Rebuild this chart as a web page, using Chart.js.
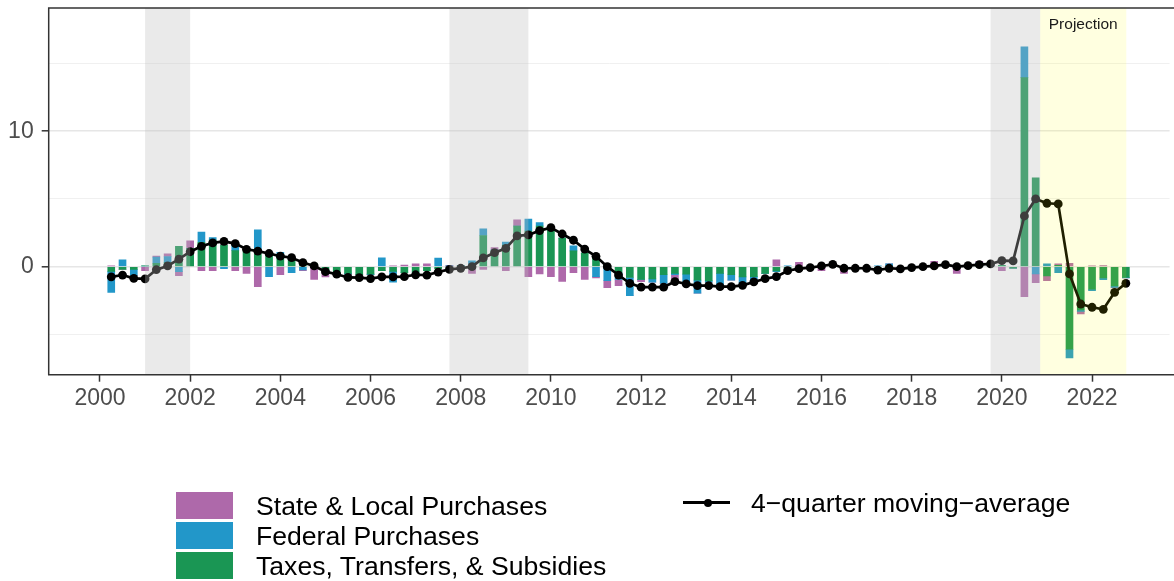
<!DOCTYPE html>
<html>
<head>
<meta charset="utf-8">
<script src="https://cdn.jsdelivr.net/npm/chart.js@4.4.1/dist/chart.umd.min.js"></script>
<style>
html,body{margin:0;padding:0;background:#fff;}
#wrap{position:relative;width:1174px;height:581px;overflow:hidden;font-family:"Liberation Sans",Arial,sans-serif;}
#c{position:absolute;left:0;top:0;}
.lgtext{position:absolute;font-size:26.6px;color:#000;line-height:30px;white-space:nowrap;}
.lgbox{position:absolute;width:57px;height:27px;}
.lgline{position:absolute;height:3px;background:#000;}
.lgdot{position:absolute;width:8px;height:8px;border-radius:50%;background:#000;}
</style>
</head>
<body>
<div id="wrap">
<canvas id="c" width="1174" height="581"></canvas>
<div id="legend"></div>
</div>
<script>
// ---- categories (quarters) ----
const quarters = [
 '2000Q1','2000Q2','2000Q3','2000Q4','2001Q1','2001Q2','2001Q3','2001Q4',
 '2002Q1','2002Q2','2002Q3','2002Q4','2003Q1','2003Q2','2003Q3','2003Q4',
 '2004Q1','2004Q2','2004Q3','2004Q4','2005Q1','2005Q2','2005Q3','2005Q4',
 '2006Q1','2006Q2','2006Q3','2006Q4','2007Q1','2007Q2','2007Q3','2007Q4',
 '2008Q1','2008Q2','2008Q3','2008Q4','2009Q1','2009Q2','2009Q3','2009Q4',
 '2010Q1','2010Q2','2010Q3','2010Q4','2011Q1','2011Q2','2011Q3','2011Q4',
 '2012Q1','2012Q2','2012Q3','2012Q4','2013Q1','2013Q2','2013Q3','2013Q4',
 '2014Q1','2014Q2','2014Q3','2014Q4','2015Q1','2015Q2','2015Q3','2015Q4',
 '2016Q1','2016Q2','2016Q3','2016Q4','2017Q1','2017Q2','2017Q3','2017Q4',
 '2018Q1','2018Q2','2018Q3','2018Q4','2019Q1','2019Q2','2019Q3','2019Q4',
 '2020Q1','2020Q2','2020Q3','2020Q4','2021Q1','2021Q2','2021Q3','2021Q4',
 '2022Q1','2022Q2','2022Q3'
];

// ---- series values (percentage points) ----
const taxesTransfers = [
 -0.35,-0.2,-0.2,0.05, 0.25,0.3,1.5,1.35,
 1.8,1.97,1.6,1.18, 1.25,1.23,0.95,0.85,
 0.6,0.25,0.2,-0.3, -0.55,-0.5,-0.6,-0.55,
 -0.3,-0.35,-0.45,-0.4, -0.3,-0.15,-0.1,0.05,
 0.0,2.3,1.2,1.6, 3.0,2.63,3.0,2.75,
 2.1,1.16,1.0,0.8, 0.1,-0.45,-0.8,-0.94,
 -0.9,-0.6,-0.5,-0.55, -1.0,-1.05,-0.5,-0.6,
 -0.75,-0.74,-0.5,-0.32, -0.2,-0.05,-0.05,0.05,
 0.05,0,-0.05,-0.05, -0.05,0,-0.05,0,
 0,0,0.05,0, 0,0,0.05,0.1,
 -0.12,13.96,6.55,-0.69, 0.1,-6.1,-3.2,-1.67,
 -0.84,-1.43,-0.79
];
const federalPurchases = [
 -1.55,0.5,-0.45,0, 0.45,0.45,-0.37,0,
 0.75,0.17,-0.15,0.4, 0,1.48,-0.74,0.2,
 -0.45,-0.25,-0.05,0, 0,-0.05,0,-0.05,
 0.65,-0.8,0,0, 0,0.64,0.05,0.05,
 0.42,0.5,0.05,0.22, 0,0.88,0.25,0,
 0,0.37,0,-0.74, -1.03,-0.5,-1.35,0,
 -0.25,-0.64,-0.1,-0.6, -0.95,-0.1,-1.0,-0.4,
 -0.6,-0.25,0,-0.05, 0.05,0,0.05,0,
 0.05,0,0,0, 0.05,0.2,0,0.05,
 0,0,0,0, 0.05,0.3,0,0,
 0,2.27,-0.54,0.2, -0.45,-0.65,-0.1,-0.1,
 -0.12,-0.1,-0.05
];
const stateLocalPurchases = [
 0.05,0,0,-0.3, 0.08,0.2,-0.3,0.55,
 -0.3,-0.3,0.05,-0.3, -0.5,-1.48,0,-0.6,
 0,-0.05,-0.9,-0.45, -0.05,0,-0.05,0,
 0,0.05,0.12,0.2, 0.2,0,0.05,-0.15,
 -0.5,-0.2,0.15,-0.3, 0.45,-0.74,-0.54,-0.74,
 -1.1,-0.44,-0.94,-0.1, -0.52,-0.45,0,-0.17,
 0,0,-0.45,0, 0,0,0,0,
 0,0,0,0.5, 0,0.32,0,-0.3,
 0.05,-0.5,-0.05,0, -0.2,0,-0.1,0,
 0,0.4,0.05,-0.5, 0,0.1,0.05,-0.3,
 0,-2.22,-0.64,-0.34, 0.1,0.25,-0.2,0.05,
 0.07,-0.05,0
];
const movingAverage = [
 -0.75,-0.62,-0.86,-0.9, -0.22,0.05,0.55,1.1,
 1.5,1.75,1.86,1.7, 1.28,1.15,0.97,0.77,
 0.66,0.3,0.05,-0.37, -0.56,-0.8,-0.81,-0.88,
 -0.75,-0.75,-0.74,-0.6, -0.63,-0.4,-0.2,-0.12,
 0.0,0.64,1.03,1.35, 2.27,2.34,2.66,2.88,
 2.41,1.95,1.3,0.76, 0.0,-0.62,-1.23,-1.52,
 -1.52,-1.52,-1.1,-1.28, -1.4,-1.4,-1.48,-1.48,
 -1.38,-1.13,-0.89,-0.74, -0.3,-0.15,-0.07,0.05,
 0.17,-0.12,-0.12,-0.12, -0.25,-0.12,-0.17,-0.07,
 0.0,0.05,0.15,0.0, 0.07,0.15,0.2,0.44,
 0.42,3.74,5.0,4.68, 4.63,-0.54,-2.76,-3.0,
 -3.15,-1.9,-1.23
];

// ---- shaded periods (decimal years) ----
const recessions = [[2001.0, 2002.0], [2007.75, 2009.5], [2019.75, 2020.85]];
const projection = [2020.85, 2022.76];
const projectionLabel = 'Projection';

// ---- axis ticks ----
const yLabelledTicks = [0, 10];
const xTickStep = 2;

// ---- legend / series names ----
const seriesNames = ['State & Local Purchases', 'Federal Purchases', 'Taxes, Transfers, & Subsidies'];
const lineName = '4\u2212quarter moving\u2212average';
const COLORS = {state: '#AE69AA', federal: '#2297C9', taxes: '#1A9654'};

// quarter label -> decimal year at quarter end
function qToX(q) { const y = +q.slice(0, 4), n = +q.slice(5); return y + n * 0.25; }
const xs = quarters.map(qToX);
const pts = arr => arr.map((v, i) => ({x: xs[i], y: v}));

const FONT = '"Liberation Sans", Arial, sans-serif';

const framePlugin = {
  id: 'frame',
  afterDatasetsDraw(chart) {
    const {ctx, chartArea: a, scales: {x}} = chart;
    ctx.save();
    ctx.beginPath();
    ctx.rect(a.left, a.top, a.right - a.left, a.bottom - a.top);
    ctx.clip();
    ctx.fillStyle = 'rgba(190,190,190,0.32)';
    recessions.forEach(([s, e]) => {
      const x0 = x.getPixelForValue(s), x1 = x.getPixelForValue(e);
      ctx.fillRect(x0, a.top, x1 - x0, a.bottom - a.top);
    });
    ctx.fillStyle = 'rgba(255,255,0,0.12)';
    const p0 = x.getPixelForValue(projection[0]), p1 = x.getPixelForValue(projection[1]);
    ctx.fillRect(p0, a.top, p1 - p0, a.bottom - a.top);
    ctx.restore();

    ctx.save();
    ctx.fillStyle = '#1a1a1a';
    ctx.font = '15.5px ' + FONT;
    ctx.textAlign = 'center';
    ctx.textBaseline = 'middle';
    ctx.fillText(projectionLabel, (p0 + p1) / 2, a.top + 17);
    ctx.restore();
  },
  afterDraw(chart) {
    const {ctx, chartArea: a} = chart;
    ctx.save();
    ctx.strokeStyle = '#333333';
    ctx.lineWidth = 1.5;
    ctx.beginPath();
    ctx.moveTo(chart.width + 2, a.top);
    ctx.lineTo(a.left, a.top);
    ctx.lineTo(a.left, a.bottom);
    ctx.lineTo(chart.width + 2, a.bottom);
    ctx.stroke();
    ctx.restore();
  }
};

function noPad(s) { s.paddingTop = 0; s.paddingBottom = 0; s.paddingLeft = 0; s.paddingRight = 0; }

new Chart(document.getElementById('c'), {
  data: {
    datasets: [
      {type: 'line', label: lineName, data: pts(movingAverage), order: 0, stack: 'ma',
       borderColor: '#000', borderWidth: 2.7, pointRadius: 4.4, pointBackgroundColor: '#000',
       pointBorderWidth: 0, tension: 0},
      {type: 'bar', label: seriesNames[2], data: pts(taxesTransfers), order: 1, stack: 'bars',
       backgroundColor: COLORS.taxes, barThickness: 7, borderWidth: 0},
      {type: 'bar', label: seriesNames[1], data: pts(federalPurchases), order: 1, stack: 'bars',
       backgroundColor: COLORS.federal, barThickness: 7, borderWidth: 0},
      {type: 'bar', label: seriesNames[0], data: pts(stateLocalPurchases), order: 1, stack: 'bars',
       backgroundColor: COLORS.state, barThickness: 7, borderWidth: 0}
    ]
  },
  options: {
    responsive: false,
    animation: false,
    devicePixelRatio: 1,
    layout: {padding: {top: 8, right: 0, bottom: 166.3, left: 0}},
    plugins: {legend: {display: false}, tooltip: {enabled: false}},
    scales: {
      x: {
        type: 'linear', min: 1998.863, max: 2023.72, stacked: true, offset: false,
        afterFit: s => { s.height = 40; noPad(s); },
        border: {display: false},
        grid: {offset: false, drawOnChartArea: false, drawTicks: true, tickLength: 7, tickColor: '#333333', tickWidth: 1.5},
        ticks: {stepSize: xTickStep, includeBounds: false, autoSkip: false, maxRotation: 0,
                padding: 3, color: '#4D4D4D', font: {family: FONT, size: 23},
                callback: v => String(v)}
      },
      y: {
        type: 'linear', min: -7.98, max: 19.1, stacked: true,
        afterFit: s => { s.width = 48.7; noPad(s); },
        border: {display: false},
        grid: {
          drawOnChartArea: true, drawTicks: true, tickLength: 7,
          color: c => yLabelledTicks.includes(c.tick.value) ? '#E6E6E6' : '#EEEEEE',
          lineWidth: c => yLabelledTicks.includes(c.tick.value) ? 1.6 : 0.9,
          tickColor: c => yLabelledTicks.includes(c.tick.value) ? '#333333' : 'rgba(0,0,0,0)',
          tickWidth: 1.5
        },
        ticks: {stepSize: 5, includeBounds: false, padding: 8, color: '#4D4D4D',
                font: {family: FONT, size: 23},
                callback: v => yLabelledTicks.includes(v) ? String(v) : ''}
      }
    }
  },
  plugins: [framePlugin]
});

// ---- HTML legend ----
(function () {
  const lg = document.getElementById('legend');
  const boxColors = [COLORS.state, COLORS.federal, COLORS.taxes];
  seriesNames.forEach((name, i) => {
    const top = 492 + i * 30;
    const b = document.createElement('div');
    b.className = 'lgbox';
    b.style.left = '176px'; b.style.top = top + 'px'; b.style.background = boxColors[i];
    lg.appendChild(b);
    const t = document.createElement('div');
    t.className = 'lgtext';
    t.style.left = '256px'; t.style.top = (top - 1.5) + 'px';
    t.textContent = name;
    lg.appendChild(t);
  });
  const ln = document.createElement('div');
  ln.className = 'lgline';
  ln.style.left = '683px'; ln.style.top = '501px'; ln.style.width = '47px';
  lg.appendChild(ln);
  const dot = document.createElement('div');
  dot.className = 'lgdot';
  dot.style.left = '703.5px'; dot.style.top = '498.5px';
  lg.appendChild(dot);
  const lt = document.createElement('div');
  lt.className = 'lgtext';
  lt.style.left = '751px'; lt.style.top = '487.5px';
  lt.textContent = lineName;
  lg.appendChild(lt);
})();
</script>
</body>
</html>
